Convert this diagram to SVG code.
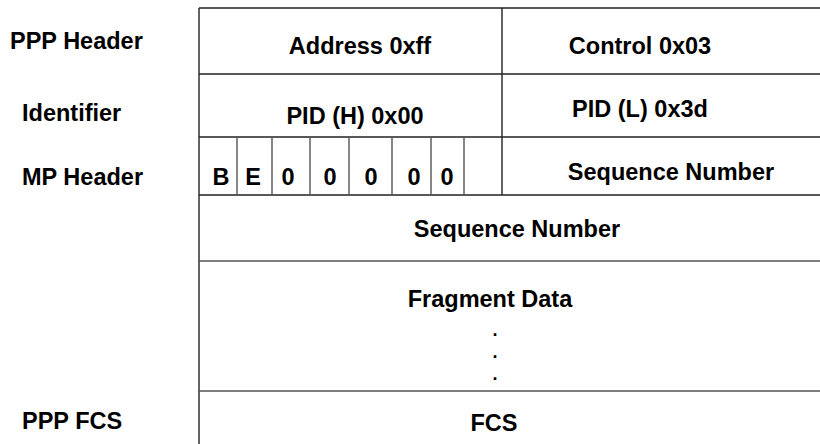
<svg xmlns="http://www.w3.org/2000/svg" width="820" height="444" viewBox="0 0 820 444">
<style>
text{font-family:"Liberation Sans",Arial,sans-serif;font-weight:bold;font-size:23.5px;fill:#000}
.c{text-anchor:middle}
.d{font-size:18px}
.ln{stroke:#222;stroke-width:1.4;fill:none}
.lg{stroke:#555;stroke-width:1.4;fill:none}
</style>
<rect width="820" height="444" fill="#fff"/>
<g id="connectors">
<path class="ln" d="M199 8H820M199 8V444M502 8V195M199 74H820M199 137H820M199 195H820"/>
<path class="lg" d="M199 261H820M199 391H820M237 137V195M272 137V195M310 137V195M349 137V195M392 137V195M431 137V195M464 137V195"/>
</g>
<g id="labels">
<text x="10" y="49">PPP Header</text>
<text x="22" y="121">Identifier</text>
<text x="22" y="185">MP Header</text>
<text x="22" y="429">PPP FCS</text>
</g>
<g id="address"><text class="c" x="360" y="54">Address 0xff</text></g>
<g id="control"><text class="c" x="640" y="54">Control 0x03</text></g>
<g id="pid-h"><text class="c" x="355" y="124">PID (H) 0x00</text></g>
<g id="pid-l"><text class="c" x="640" y="117">PID (L) 0x3d</text></g>
<g id="bits">
<text class="c" x="221" y="185">B</text>
<text class="c" x="253" y="185">E</text>
<text class="c" x="288" y="185">0</text>
<text class="c" x="330" y="185">0</text>
<text class="c" x="371" y="185">0</text>
<text class="c" x="414" y="185">0</text>
<text class="c" x="447" y="185">0</text>
</g>
<g id="seq-high"><text class="c" x="671" y="180">Sequence Number</text></g>
<g id="seq-low"><text class="c" x="517" y="237">Sequence Number</text></g>
<g id="fragment">
<text class="c" x="490" y="307">Fragment Data</text>
<text class="c d" x="495" y="336">.</text>
<text class="c d" x="495" y="358">.</text>
<text class="c d" x="495" y="380">.</text>
</g>
<g id="fcs"><text class="c" x="494" y="431">FCS</text></g>
</svg>
